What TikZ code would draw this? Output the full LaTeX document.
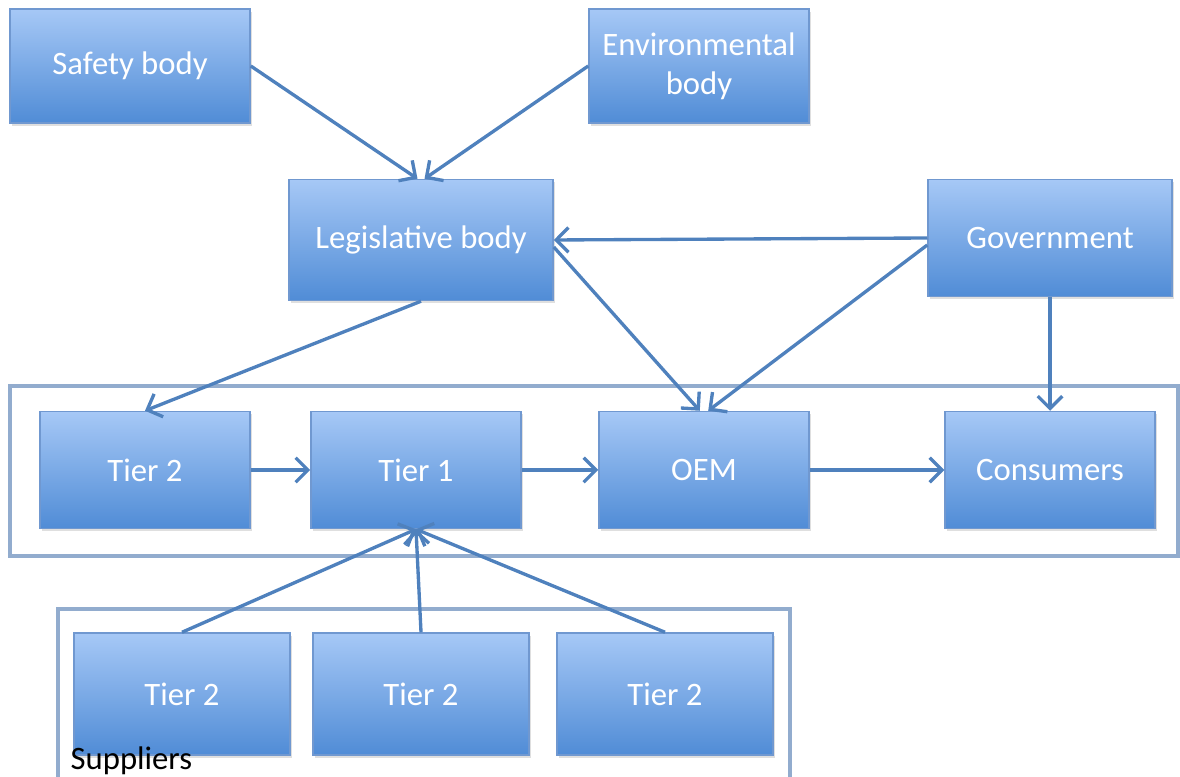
\documentclass[tikz,border=0pt]{standalone}
\usepackage{fontspec}
\setmainfont{Carlito}
\usetikzlibrary{arrows.meta, shadows}

\definecolor{boxtop}{RGB}{166,200,246}
\definecolor{boxbot}{RGB}{80,140,214}
\definecolor{boxline}{RGB}{112,152,208}
\definecolor{linkblue}{RGB}{79,129,189}
\definecolor{groupblue}{RGB}{146,172,206}

\begin{document}
\begin{tikzpicture}[x=0.01cm, y=-0.01cm,
    box/.style={rectangle, draw=boxline, line width=0.4pt, top color=boxtop, bottom color=boxbot,
        text=white, font=\fontsize{9.3}{11}\selectfont, align=center, inner sep=0pt,
        drop shadow={opacity=0.25, shadow xshift=0.6pt, shadow yshift=-0.8pt}},
    link/.style={draw=linkblue, line width=0.95pt, -{Straight Barb[length=3.5pt, width=7pt]}},
    groupbox/.style={draw=groupblue, line width=1pt}]
        \useasboundingbox (0, 0) rectangle (1180, 777);
        % group frames
        \draw [groupbox] (10, 386) rectangle (1178, 556);
        \draw [groupbox] (58, 609) rectangle (790, 800);
        % regulators
        \node [box, minimum width=2.4cm, minimum height=1.14cm] (safety) at (130, 66) {Safety body};
        \node [box, minimum width=2.2cm, minimum height=1.14cm] (env) at (699, 66) {Environmental\\body};
        \node [box, minimum width=2.64cm, minimum height=1.21cm] (leg) at (421, 240) {Legislative body};
        \node [box, minimum width=2.44cm, minimum height=1.17cm] (gov) at (1050, 238) {Government};
        % supply chain
        \node [box, minimum width=2.1cm, minimum height=1.17cm] (tiertwo) at (145, 470) {Tier 2};
        \node [box, minimum width=2.1cm, minimum height=1.17cm] (tierone) at (416, 470) {Tier 1};
        \node [box, minimum width=2.1cm, minimum height=1.17cm] (oem) at (704, 470) {OEM};
        \node [box, minimum width=2.1cm, minimum height=1.17cm] (cons) at (1050, 470) {Consumers};
        % suppliers
        \node [box, minimum width=2.16cm, minimum height=1.22cm] (supa) at (182, 694) {Tier 2};
        \node [box, minimum width=2.16cm, minimum height=1.22cm] (supb) at (421, 694) {Tier 2};
        \node [box, minimum width=2.16cm, minimum height=1.22cm] (supc) at (665, 694) {Tier 2};
        \node [anchor=west, font=\fontsize{9.3}{11}\selectfont, inner sep=0pt] (suplabel) at (70, 761) {Suppliers};
        % connectors
        \draw [link] (safety.east) -- ([xshift=-1pt]leg.north);
        \draw [link] (env.west) -- ([xshift=1pt]leg.north);
        \draw [link] (gov.west) -- (leg.east);
        \draw [link] ([yshift=-2pt]leg.east) -- ([xshift=-1.2pt]oem.north);
        \draw [link] ([yshift=-2pt]gov.west) -- ([xshift=1.2pt]oem.north);
        \draw [link] (leg.south) -- (tiertwo.north);
        \draw [link] (gov.south) -- (cons.north);
        \draw [link] (tiertwo.east) -- (tierone.west);
        \draw [link] (tierone.east) -- (oem.west);
        \draw [link] (oem.east) -- (cons.west);
        \draw [link] (supa.north) -- (tierone.south);
        \draw [link] (supb.north) -- (tierone.south);
        \draw [link] (supc.north) -- (tierone.south);
    \end{tikzpicture}
\end{document}
